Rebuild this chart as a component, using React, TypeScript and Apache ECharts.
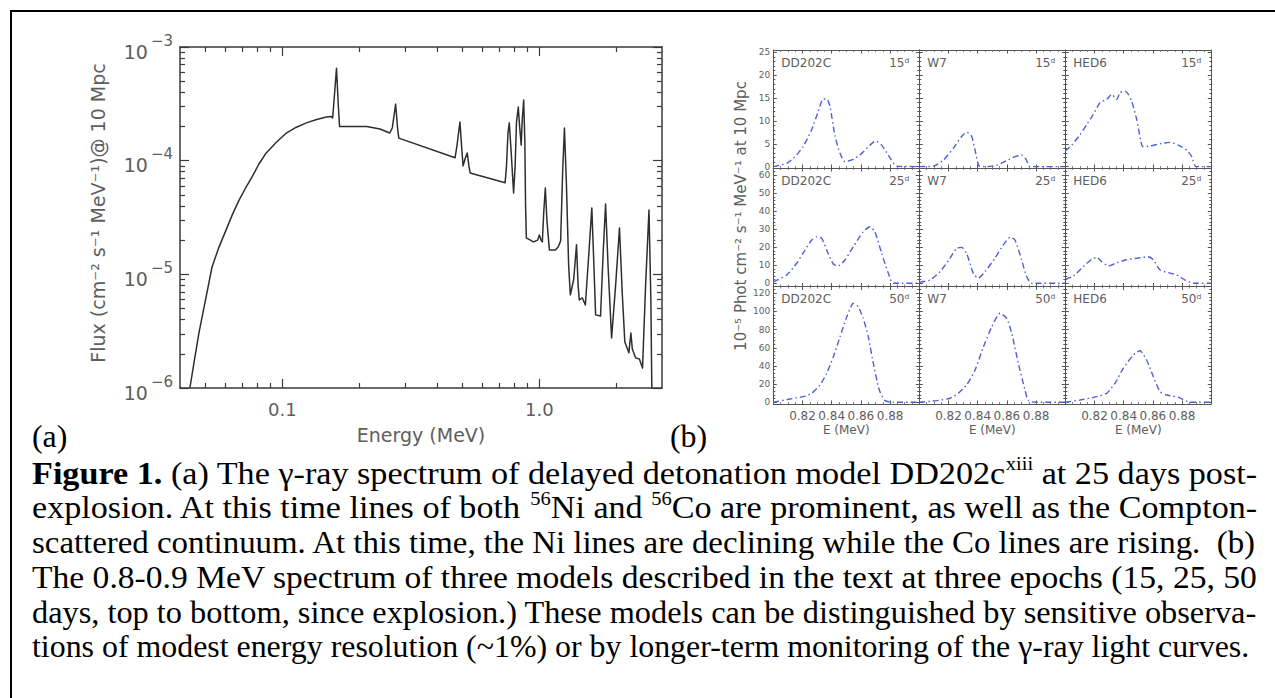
import React, { useEffect, useRef } from "react";
import * as echarts from "echarts";

// ---------------- Panel (a): gamma-ray spectrum, DD202c at 25 days ----------------
const spectrumEnergyMeV = [
  0.0437, 0.0455, 0.0474, 0.05, 0.0533, 0.0565, 0.0604, 0.064, 0.0679, 0.072,
  0.0763, 0.081, 0.0866, 0.095, 0.1037, 0.113, 0.124, 0.136, 0.1486, 0.155,
  0.157, 0.159, 0.1625, 0.165, 0.167, 0.213, 0.24, 0.262, 0.268, 0.276,
  0.281, 0.284, 0.47, 0.478, 0.491, 0.5, 0.505, 0.515, 0.524, 0.532,
  0.538, 0.736, 0.745, 0.755, 0.764, 0.775, 0.794, 0.805, 0.815, 0.828,
  0.838, 0.85, 0.857, 0.869, 0.878, 0.884, 0.89, 0.948, 0.985, 1.0,
  1.015, 1.027, 1.04, 1.055, 1.07, 1.094, 1.155, 1.185, 1.21, 1.232,
  1.252, 1.275, 1.3, 1.32, 1.36, 1.395, 1.415, 1.43, 1.47, 1.51,
  1.56, 1.6, 1.63, 1.655, 1.73, 1.77, 1.81, 1.85, 1.91, 1.98,
  2.05, 2.1, 2.15, 2.23, 2.27, 2.3, 2.37, 2.45, 2.52, 2.59,
  2.67, 2.715, 2.74,
];
const spectrumFlux = [
  1.0e-6, 1.75e-6, 3.05e-6, 5.6e-6, 1.16e-5, 1.7e-5, 2.45e-5, 3.37e-5, 4.5e-5, 5.75e-5,
  7.2e-5, 9.3e-5, 1.17e-4, 1.46e-4, 1.75e-4, 1.96e-4, 2.15e-4, 2.3e-4, 2.42e-4, 2.45e-4,
  2.38e-4, 3.4e-4, 6.5e-4, 3.2e-4, 2.0e-4, 2.0e-4, 1.9e-4, 1.75e-4, 1.95e-4, 3.15e-4,
  1.9e-4, 1.58e-4, 1.06e-4, 1.35e-4, 2.19e-4, 1.2e-4, 9.0e-5, 1.05e-4, 1.17e-4, 9.0e-5,
  7.8e-5, 6.4e-5, 9.0e-5, 1.75e-4, 2.15e-4, 1.3e-4, 5.2e-5, 9.0e-5, 2.2e-4, 2.96e-4,
  2.0e-4, 1.37e-4, 2.2e-4, 3.42e-4, 1.5e-4, 4.0e-5, 2.09e-5, 1.93e-5, 2.0e-5, 2.22e-5,
  2.0e-5, 1.93e-5, 3.5e-5, 5.75e-5, 3.0e-5, 1.64e-5, 1.64e-5, 1.75e-5, 1.97e-5, 8.0e-5,
  1.94e-4, 6.0e-5, 1.2e-5, 6.6e-6, 9.0e-6, 1.82e-5, 8.0e-6, 5.96e-6, 6.2e-6, 5.37e-6,
  1.6e-5, 3.84e-5, 1.2e-5, 4.4e-6, 4.3e-6, 1.5e-5, 4.16e-5, 1.2e-5, 2.75e-6, 8.0e-6,
  2.56e-5, 7.0e-6, 2.55e-6, 2.04e-6, 3.05e-6, 2.2e-6, 1.84e-6, 1.8e-6, 1.5e-6, 8.0e-6,
  3.68e-5, 6.0e-6, 9.0e-7,
];
const energyMajorTicks = [0.1, 1];
const energyMinorTicks = [0.05, 0.06, 0.07, 0.08, 0.09, 0.2, 0.3, 0.4, 0.5, 0.6, 0.7, 0.8, 0.9, 2];
const fluxMajorTicks = [1e-6, 1e-5, 1e-4, 1e-3];
const fluxMinorTicks = [
  2e-6, 3e-6, 4e-6, 5e-6, 6e-6, 7e-6, 8e-6, 9e-6,
  2e-5, 3e-5, 4e-5, 5e-5, 6e-5, 7e-5, 8e-5, 9e-5,
  2e-4, 3e-4, 4e-4, 5e-4, 6e-4, 7e-4, 8e-4, 9e-4,
];

// ---------------- Panel (b): 0.8-0.9 MeV spectra ----------------
const models = ["DD202C", "W7", "HED6"];
const epochs = ["15ᵈ", "25ᵈ", "50ᵈ"];

const dd15E = [0.8, 0.8092, 0.8149, 0.8205, 0.8263, 0.8308, 0.8342, 0.8366, 0.8388, 0.8423, 0.8457, 0.8491, 0.8548, 0.8605, 0.8662, 0.8701, 0.8742, 0.8788, 0.8845, 0.9];
const dd15V = [0, 0.7, 2.2, 4.4, 8.1, 12.1, 14.8, 14.8, 13.2, 6.6, 2.9, 1.1, 1.6, 2.9, 4.7, 5.6, 4.7, 2.5, 0.1, 0];
const w715E = [0.8, 0.8096, 0.8164, 0.8233, 0.829, 0.8325, 0.8359, 0.8382, 0.8411, 0.8462, 0.853, 0.8599, 0.8656, 0.8702, 0.8731, 0.8758, 0.9];
const w715V = [0, 0.1, 1.4, 4.0, 6.6, 7.5, 6.6, 3.6, 0.1, 0, 0.3, 1.3, 2.2, 2.5, 1.6, 0, 0];
const hed15E = [0.8, 0.8044, 0.8101, 0.8147, 0.8192, 0.8238, 0.8284, 0.8318, 0.8352, 0.8375, 0.8409, 0.8432, 0.8455, 0.8489, 0.8516, 0.853, 0.858, 0.8649, 0.8717, 0.8774, 0.8832, 0.8866, 0.8895, 0.9];
const hed15V = [3.4, 4.7, 7.0, 9.2, 11.4, 14.0, 14.7, 15.8, 14.7, 16.2, 16.5, 15.8, 14.3, 10.3, 5.8, 4.4, 4.5, 5.0, 5.3, 4.7, 3.6, 2.2, 0, 0];

const dd25E = [0.8, 0.8092, 0.816, 0.8217, 0.8263, 0.8297, 0.8332, 0.8366, 0.8411, 0.8445, 0.8491, 0.8548, 0.8616, 0.8662, 0.8696, 0.8742, 0.8788, 0.8822, 0.9];
const dd25V = [0.8, 4.6, 11.1, 18.4, 24.0, 25.8, 24.9, 18.4, 10.7, 9.6, 12.9, 20.3, 28.6, 31.4, 28.6, 16.6, 5.5, 0, 0];
const w725E = [0.8, 0.8073, 0.8142, 0.821, 0.8256, 0.829, 0.8324, 0.837, 0.8404, 0.845, 0.8518, 0.8575, 0.8621, 0.8655, 0.8701, 0.8735, 0.8769, 0.9];
const w725V = [0.5, 1.8, 6.4, 13.9, 19.4, 19.9, 16.6, 5.5, 2.8, 6.4, 13.9, 21.2, 25.5, 24.0, 12.9, 3.7, 0, 0];
const hed25E = [0.8, 0.8055, 0.8123, 0.818, 0.8215, 0.8249, 0.8295, 0.8352, 0.8409, 0.8489, 0.8568, 0.8603, 0.8649, 0.8705, 0.8763, 0.882, 0.8877, 0.9];
const hed25V = [2.2, 4.0, 9.2, 13.3, 14.4, 12.0, 9.6, 11.4, 12.9, 13.9, 14.7, 12.9, 7.4, 5.9, 4.6, 1.8, 0, 0];

const dd50E = [0.8, 0.8114, 0.8205, 0.8263, 0.832, 0.8366, 0.8411, 0.8457, 0.8503, 0.8548, 0.8582, 0.8616, 0.8651, 0.8685, 0.8726, 0.8765, 0.8822, 0.9];
const dd50V = [0, 3.6, 6.2, 9.9, 19, 32, 50, 72, 94, 109, 105, 92.5, 72, 43, 13.5, 1.8, 0, 0];
const w750E = [0.8, 0.8119, 0.821, 0.8267, 0.8324, 0.8382, 0.8439, 0.8496, 0.8553, 0.8599, 0.8633, 0.8678, 0.8724, 0.8747, 0.88, 0.9];
const w750V = [0, 1.8, 4.4, 9.9, 19, 35.6, 61, 83, 98, 92.5, 76, 43, 13.5, 1.8, 0, 0];
const hed50E = [0.8, 0.8101, 0.8215, 0.8284, 0.8341, 0.8397, 0.8466, 0.8511, 0.8557, 0.8603, 0.8649, 0.8694, 0.8774, 0.8854, 0.9];
const hed50V = [0, 2.5, 6.2, 9.9, 21, 37.4, 52, 56.8, 46.6, 28.2, 11.7, 8.0, 5.5, 0, 0];

const panelEnergies = [[dd15E, w715E, hed15E], [dd25E, w725E, hed25E], [dd50E, w750E, hed50E]];
const panelValues = [[dd15V, w715V, hed15V], [dd25V, w725V, hed25V], [dd50V, w750V, hed50V]];

const rowYMin = [-0.3, -1.8, -1.9];
const rowYMax = [25.5, 64, 127.5];
const rowMajorTicks = [
  [0, 5, 10, 15, 20, 25],
  [0, 10, 20, 30, 40, 50, 60],
  [0, 20, 40, 60, 80, 100, 120],
];
const rowMinorStep = [1, 2, 4];

// ---------------- Caption ----------------
type Seg = { t: string; s: "n" | "b" | "sup" };
const captionLines: Seg[][] = [
  [
    { t: "Figure 1.", s: "b" },
    { t: " (a) The γ-ray spectrum of delayed detonation model DD202c", s: "n" },
    { t: "xiii", s: "sup" },
    { t: " at 25 days post-", s: "n" },
  ],
  [
    { t: "explosion. At this time lines of both ", s: "n" },
    { t: "56", s: "sup" },
    { t: "Ni and ", s: "n" },
    { t: "56", s: "sup" },
    { t: "Co are prominent, as well as the Compton-", s: "n" },
  ],
  [{ t: "scattered continuum. At this time, the Ni lines are declining while the Co lines are rising.  (b)", s: "n" }],
  [{ t: "The 0.8-0.9 MeV spectrum of three models described in the text at three epochs (15, 25, 50", s: "n" }],
  [{ t: "days, top to bottom, since explosion.) These models can be distinguished by sensitive observa-", s: "n" }],
  [{ t: "tions of modest energy resolution (~1%) or by longer-term monitoring of the γ-ray light curves.", s: "n" }],
];

// ---------------- Styling / layout constants ----------------
const IDL_FONT = "DejaVu Sans, sans-serif";
const IDL_GRAY = "#5e5e5e";
const AXIS_DARK = "#3a3a3a";
const SERIF = "Liberation Serif, serif";
const CURVE_BLUE = "#4d5fd8";
const SUP = 0.6;

const COL_LEFT = [773.3, 919.3, 1065.3];
const COL_W = 146;
const ROW_TOP = [50, 168, 286.5];
const ROW_H = [118, 118.5, 117.5];

function rangeTicks(max: number, step: number, majorStep: number) {
  const out: number[] = [];
  for (let v = step; v < max; v += step) {
    if (Math.abs(v / majorStep - Math.round(v / majorStep)) > 1e-6) out.push(v);
  }
  return out;
}

function measureSegs(segs: Seg[], F: number) {
  const ctx = document.createElement("canvas").getContext("2d")!;
  let w = 0;
  for (const s of segs) {
    const size = s.s === "sup" ? F * SUP : F;
    ctx.font = `${s.s === "b" ? "bold " : ""}${size}px Liberation Serif, serif`;
    w += ctx.measureText(s.t).width;
  }
  return w;
}

function buildOption(): any {
  const grid: any[] = [];
  const xAxis: any[] = [];
  const yAxis: any[] = [];
  const series: any[] = [];
  const graphic: any[] = [];

  // ---------- panel (a) ----------
  grid.push({ left: 180, top: 47, width: 482, height: 341 });
  const logX = (position: string, ticks: number[], len: number, line: boolean, label: boolean) => ({
    type: "log",
    logBase: 10,
    gridIndex: 0,
    position,
    min: 0.04,
    max: 3,
    axisLine: { show: line, lineStyle: { color: AXIS_DARK, width: 1.5 } },
    axisTick: { show: true, inside: true, length: len, customValues: ticks, lineStyle: { color: AXIS_DARK, width: 1.2 } },
    axisLabel: label
      ? { show: true, customValues: energyMajorTicks, formatter: (v: number) => v.toFixed(1), margin: 12, fontSize: 18, color: IDL_GRAY, fontFamily: IDL_FONT }
      : { show: false },
    splitLine: { show: false },
    minorTick: { show: false },
  });
  xAxis.push(logX("bottom", energyMajorTicks, 9, true, true));
  xAxis.push(logX("bottom", energyMinorTicks, 5, false, false));
  xAxis.push(logX("top", energyMajorTicks, 9, true, false));
  xAxis.push(logX("top", energyMinorTicks, 5, false, false));

  const logY = (position: string, ticks: number[], len: number, line: boolean, label: boolean) => ({
    type: "log",
    logBase: 10,
    gridIndex: 0,
    position,
    min: 1e-6,
    max: 1e-3,
    axisLine: { show: line, lineStyle: { color: AXIS_DARK, width: 1.5 } },
    axisTick: { show: true, inside: true, length: len, customValues: ticks, lineStyle: { color: AXIS_DARK, width: 1.2 } },
    axisLabel: label
      ? {
          show: true,
          customValues: fluxMajorTicks,
          margin: 7,
          formatter: (v: number) => `{m|10}{e|−${Math.round(-Math.log10(v))}}`,
          rich: {
            m: { fontSize: 19, fontFamily: IDL_FONT, color: IDL_GRAY, lineHeight: 28, verticalAlign: "bottom" },
            e: { fontSize: 15, fontFamily: IDL_FONT, color: IDL_GRAY, lineHeight: 16, verticalAlign: "top", padding: [0, 0, 0, 3] },
          },
        }
      : { show: false },
    splitLine: { show: false },
    minorTick: { show: false },
  });
  yAxis.push(logY("left", fluxMajorTicks, 9, true, true));
  yAxis.push(logY("left", fluxMinorTicks, 5, false, false));
  yAxis.push(logY("right", fluxMajorTicks, 9, true, false));
  yAxis.push(logY("right", fluxMinorTicks, 5, false, false));

  series.push({
    type: "line",
    xAxisIndex: 0,
    yAxisIndex: 0,
    data: spectrumEnergyMeV.map((e, i) => [e, spectrumFlux[i]]),
    symbol: "none",
    lineStyle: { color: "#2e2e2e", width: 1.5, join: "round" },
    silent: true,
    clip: true,
  });

  // ---------- panel (b) ----------
  for (let r = 0; r < 3; r++) {
    for (let c = 0; c < 3; c++) {
      const p = r * 3 + c;
      const g = 1 + p;
      grid.push({ left: COL_LEFT[c], top: ROW_TOP[r], width: COL_W, height: ROW_H[r] });
      const xBase = (position: string, labels: boolean) => ({
        type: "value",
        gridIndex: g,
        position,
        min: 0.8,
        max: 0.9,
        interval: 0.02,
        axisLine: { show: true, onZero: false, lineStyle: { color: "#555", width: 1 } },
        axisTick: { show: true, inside: true, length: 3.5, lineStyle: { color: "#555", width: 1 } },
        minorTick: { show: true, splitNumber: 4, length: 2, lineStyle: { color: "#666", width: 0.8 } },
        axisLabel: labels
          ? { show: true, showMinLabel: false, showMaxLabel: false, formatter: (v: number) => v.toFixed(2), fontSize: 12, margin: 6, color: IDL_GRAY, fontFamily: IDL_FONT }
          : { show: false },
        splitLine: { show: false },
      });
      xAxis.push(xBase("bottom", r === 2));
      xAxis.push(xBase("top", false));
      const minor = rangeTicks(rowYMax[r], rowMinorStep[r], rowMajorTicks[r][1]);
      const yBase = (position: string, ticks: number[], len: number, line: boolean, labels: boolean) => ({
        type: "value",
        gridIndex: g,
        position,
        min: rowYMin[r],
        max: rowYMax[r],
        axisLine: { show: line, onZero: false, lineStyle: { color: "#555", width: 1 } },
        axisTick: { show: true, inside: true, length: len, customValues: ticks, lineStyle: { color: "#555", width: 1 } },
        axisLabel: labels
          ? { show: true, customValues: rowMajorTicks[r], fontSize: 9, margin: 3, color: IDL_GRAY, fontFamily: IDL_FONT }
          : { show: false },
        splitLine: { show: false },
        minorTick: { show: false },
      });
      yAxis.push(yBase("left", rowMajorTicks[r], 3.5, true, c === 0));
      yAxis.push(yBase("left", minor, 2, false, false));
      yAxis.push(yBase("right", rowMajorTicks[r], 3.5, true, false));
      yAxis.push(yBase("right", minor, 2, false, false));

      const E = panelEnergies[r][c];
      const V = panelValues[r][c];
      series.push({
        type: "line",
        xAxisIndex: 4 + 2 * p,
        yAxisIndex: 4 + 4 * p,
        data: E.map((e, i) => [e, V[i]]),
        symbol: "none",
        smooth: 0.2,
        lineStyle: { color: CURVE_BLUE, width: 1.4, type: [6, 3, 1.5, 3] },
        silent: true,
        clip: true,
      });

      graphic.push({
        type: "text",
        x: COL_LEFT[c] + 8,
        y: ROW_TOP[r] + 12.5,
        style: { text: models[c], fontSize: 12, fontFamily: IDL_FONT, fill: IDL_GRAY, align: "left", verticalAlign: "middle" },
      });
      graphic.push({
        type: "text",
        x: COL_LEFT[c] + 136,
        y: ROW_TOP[r] + 12.5,
        style: { text: epochs[r], fontSize: 12, fontFamily: IDL_FONT, fill: IDL_GRAY, align: "right", verticalAlign: "middle" },
      });
      if (r === 2) {
        graphic.push({
          type: "text",
          x: COL_LEFT[c] + COL_W / 2,
          y: 430,
          style: { text: "E (MeV)", fontSize: 12, fontFamily: IDL_FONT, fill: IDL_GRAY, align: "center", verticalAlign: "middle" },
        });
      }
    }
  }

  // ---------- frame ----------
  graphic.push({ type: "line", shape: { x1: 10, y1: 11, x2: 1275, y2: 11 }, style: { stroke: "#000", lineWidth: 2 } });
  graphic.push({ type: "line", shape: { x1: 11, y1: 10, x2: 11, y2: 698 }, style: { stroke: "#000", lineWidth: 2 } });

  // ---------- axis names ----------
  graphic.push({
    type: "text",
    x: 98,
    y: 213,
    rotation: Math.PI / 2,
    style: { text: "Flux (cm⁻² s⁻¹ MeV⁻¹)@ 10 Mpc", fontSize: 19, fontFamily: IDL_FONT, fill: IDL_GRAY, align: "center", verticalAlign: "middle" },
  });
  graphic.push({
    type: "text",
    x: 421,
    y: 435,
    style: { text: "Energy (MeV)", fontSize: 19, fontFamily: IDL_FONT, fill: IDL_GRAY, align: "center", verticalAlign: "middle" },
  });
  graphic.push({
    type: "text",
    x: 741,
    y: 216,
    rotation: Math.PI / 2,
    style: { text: "10⁻⁵ Phot cm⁻² s⁻¹ MeV⁻¹ at 10 Mpc", fontSize: 15, fontFamily: IDL_FONT, fill: IDL_GRAY, align: "center", verticalAlign: "middle" },
  });

  // ---------- caption ----------
  const F = (100 * 1218) / measureSegs(captionLines[5], 100);
  const LH = F * 1.2;
  const rich = {
    n: { fontFamily: SERIF, fontSize: F, fill: "#000", lineHeight: LH },
    b: { fontFamily: SERIF, fontSize: F, fontWeight: "bold", fill: "#000", lineHeight: LH },
    sup: { fontFamily: SERIF, fontSize: F * SUP, fill: "#000", lineHeight: F * 0.72, verticalAlign: "top" },
  };
  const CENTER_OFF = 0.3375 * F;
  graphic.push({
    type: "text",
    x: 32,
    y: 447 - CENTER_OFF,
    style: { text: "(a)", fontFamily: SERIF, fontSize: F, fill: "#000", align: "left", verticalAlign: "middle" },
  });
  graphic.push({
    type: "text",
    x: 670,
    y: 447 - CENTER_OFF,
    style: { text: "(b)", fontFamily: SERIF, fontSize: F, fill: "#000", align: "left", verticalAlign: "middle" },
  });
  const baselines = [484, 518.6, 553.2, 587.8, 622.4, 657];
  captionLines.forEach((segs, i) => {
    const natural = measureSegs(segs, F);
    const sx = i < 5 ? 1225 / natural : 1;
    graphic.push({
      type: "text",
      x: 32,
      y: baselines[i] - CENTER_OFF,
      scaleX: sx,
      style: {
        text: segs.map((s) => `{${s.s}|${s.t}}`).join(""),
        rich,
        align: "left",
        verticalAlign: "middle",
      },
    });
  });

  return {
    animation: false,
    backgroundColor: "#ffffff",
    grid,
    xAxis,
    yAxis,
    series,
    graphic,
  };
}

export default function App() {
  const ref = useRef<HTMLDivElement>(null);
  useEffect(() => {
    document.body.style.margin = "0";
    const el = ref.current!;
    const chart = echarts.init(el, null, { renderer: "svg" });
    chart.setOption(buildOption());
    return () => chart.dispose();
  }, []);
  return (
    <div
      ref={ref}
      style={{ position: "fixed", left: 0, top: 0, width: 1275, height: 698, background: "#fff" }}
    />
  );
}
